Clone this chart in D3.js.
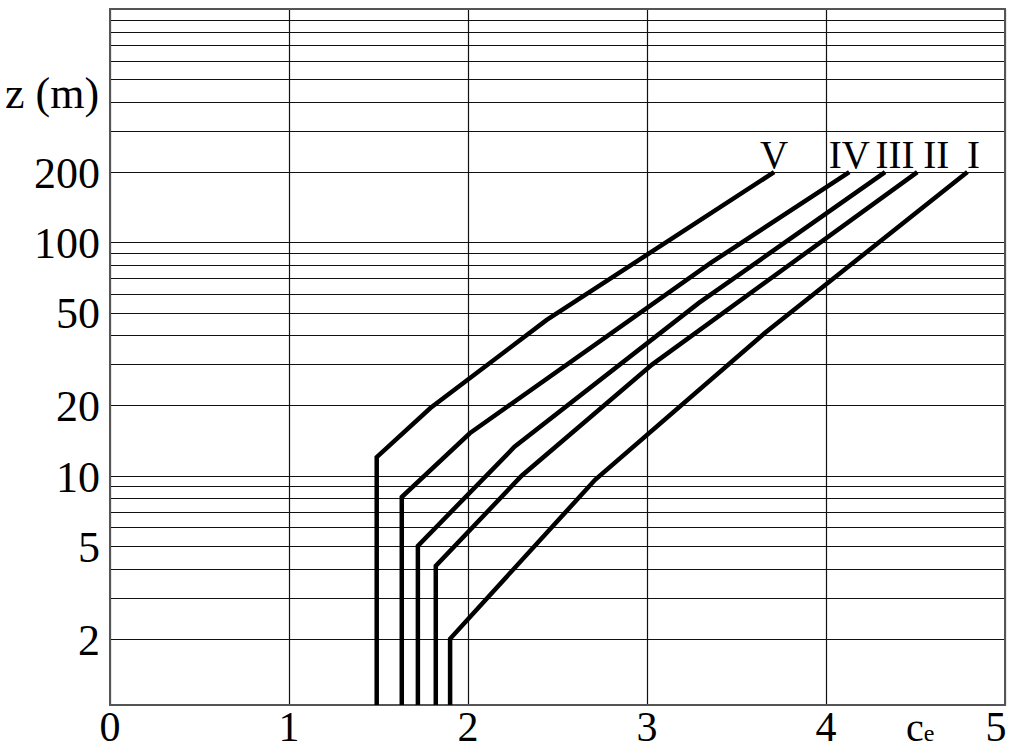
<!DOCTYPE html>
<html>
<head>
<meta charset="utf-8">
<script src="https://cdn.jsdelivr.net/npm/d3@7"></script>
<style>
  body { margin: 0; background: #fff; }
  svg { display: block; }
  text { font-family: "Liberation Serif", "Times New Roman", serif; fill: #000; }
</style>
</head>
<body>
<svg id="chart" width="1013" height="751"></svg>
<script>
// terrain categories, top label of every curve
var categories = ["I", "II", "III", "IV", "V"];

// height z (m) and exposure factor ce for each curve
var zI   = [1, 2, 9.6, 41, 200];
var ceI  = [1.90, 1.90, 2.71, 3.66, 4.79];
var zII  = [1, 4.1, 10, 30, 200];
var ceII = [1.82, 1.82, 2.30, 3.03, 4.51];
var zIII  = [1, 5, 13.3, 55, 200];
var ceIII = [1.72, 1.72, 2.26, 3.29, 4.33];
var zIV  = [1, 8.1, 15.2, 82, 200];
var ceIV = [1.63, 1.63, 2.01, 3.36, 4.13];
var zV   = [1, 12, 19.5, 46.5, 200];
var ceV  = [1.49, 1.49, 1.79, 2.44, 3.71];

var xTicks = [0, 1, 2, 3, 4, 5];
var yTicks = [2, 5, 10, 20, 50, 100, 200];

var Chart = (function() {

  var svg = d3.select("#chart");
  var left = 110, right = 1005, top = 9, bottom = 705;

  var x = d3.scaleLinear().domain([0, 5]).range([left, right]);
  var y = d3.scaleLog().domain([1, 1000]).range([709, top]);

  var zip = function(zs, cs) {
    return zs.map(function(z, i) { return [cs[i], z]; });
  };

  // dx only nudges the roman numerals apart
  var series = [
    { name: categories[0], pts: zip(zI, ceI),     dx: 6 },
    { name: categories[1], pts: zip(zII, ceII),   dx: 19 },
    { name: categories[2], pts: zip(zIII, ceIII), dx: 10 },
    { name: categories[3], pts: zip(zIV, ceIV),   dx: 0 },
    { name: categories[4], pts: zip(zV, ceV),     dx: 0 }
  ];

  var drawGrid = function() {
    // log grid: 2..9, 10..90, 100..1000
    var lines = [];
    [1, 10, 100].forEach(function(dec) {
      for (var k = 1; k <= 9; k++) {
        if (dec * k > 1) lines.push(dec * k);
      }
    });
    lines.push(1000);

    svg.append("g").selectAll("line")
      .data(lines)
      .enter()
      .append("line")
      .attr("x1", left).attr("x2", right)
      .attr("y1", function(d) { return Math.round(y(d)) + 0.5; })
      .attr("y2", function(d) { return Math.round(y(d)) + 0.5; })
      .attr("stroke", "#111")
      .attr("stroke-width", 1.2);

    svg.append("g").selectAll("line")
      .data(xTicks)
      .enter()
      .append("line")
      .attr("x1", function(d) { return Math.round(x(d)) + 0.5; })
      .attr("x2", function(d) { return Math.round(x(d)) + 0.5; })
      .attr("y1", top).attr("y2", bottom)
      .attr("stroke", "#111")
      .attr("stroke-width", 1.2);

    svg.append("rect")
      .attr("x", left).attr("y", top)
      .attr("width", right - left).attr("height", bottom - top)
      .attr("fill", "none")
      .attr("stroke", "#555")
      .attr("stroke-width", 2);
  };

  var drawCurves = function() {
    svg.append("clipPath").attr("id", "plot")
      .append("rect")
      .attr("x", left).attr("y", top)
      .attr("width", right - left).attr("height", bottom - top);

    var line = d3.line()
      .x(function(d) { return x(d[0]); })
      .y(function(d) { return y(d[1]); });

    svg.append("g")
      .attr("clip-path", "url(#plot)")
      .selectAll("path")
      .data(series)
      .enter()
      .append("path")
      .attr("d", function(d) { return line(d.pts); })
      .attr("fill", "none")
      .attr("stroke", "#000")
      .attr("stroke-width", 4.5)
      .attr("stroke-linejoin", "miter");

    svg.append("g").selectAll("text")
      .data(series)
      .enter()
      .append("text")
      .text(function(d) { return d.name; })
      .attr("x", function(d) { return x(d.pts[d.pts.length - 1][0]) + d.dx; })
      .attr("y", function(d) { return y(d.pts[d.pts.length - 1][1]) - 4; })
      .attr("text-anchor", "middle")
      .attr("font-size", 39);
  };

  var drawLabels = function() {
    svg.append("g").selectAll("text")
      .data(yTicks)
      .enter()
      .append("text")
      .text(function(d) { return d; })
      .attr("x", 100)
      .attr("y", function(d) { return y(d); })
      .attr("dy", "0.36em")
      .attr("text-anchor", "end")
      .attr("font-size", 44);

    svg.append("g").selectAll("text")
      .data(xTicks)
      .enter()
      .append("text")
      .text(function(d) { return d; })
      .attr("x", function(d) { return Math.min(x(d), 996); })
      .attr("y", 741)
      .attr("text-anchor", "middle")
      .attr("font-size", 42);

    svg.append("text")
      .attr("x", 5).attr("y", 108)
      .attr("font-size", 44)
      .text("z (m)");

    var ce = svg.append("text")
      .attr("x", 906).attr("y", 741)
      .attr("font-size", 40);
    ce.append("tspan").text("c");
    ce.append("tspan").attr("font-size", 24).text("e");
  };

  return {
    draw: function() {
      drawGrid();
      drawCurves();
      drawLabels();
    }
  };
})();

Chart.draw();
</script>
</body>
</html>
